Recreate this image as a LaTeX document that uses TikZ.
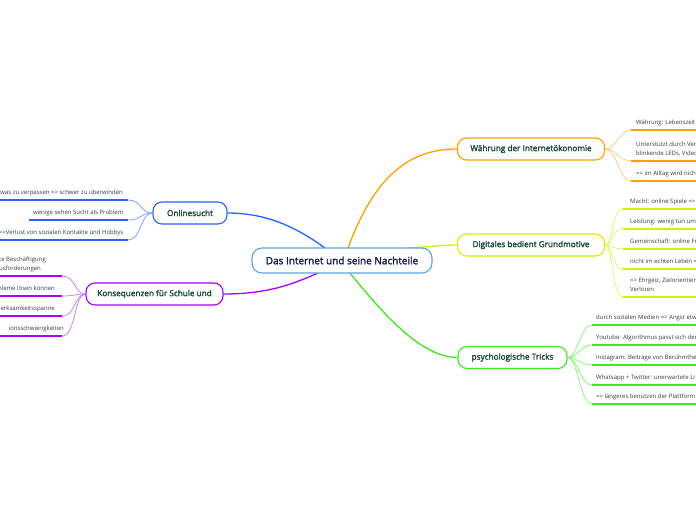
\documentclass[tikz,border=0pt]{standalone}
\usepackage{fontspec}
\setmainfont{Open Sans}
\newfontfamily\semib{Open Sans}[FakeBold=2.2]
\definecolor{cblue}{RGB}{41,98,255}
\definecolor{lblue}{RGB}{130,160,255}
\definecolor{cpurple}{RGB}{170,0,255}
\definecolor{lpurple}{RGB}{205,130,255}
\definecolor{corange}{RGB}{255,160,0}
\definecolor{lorange}{RGB}{255,205,130}
\definecolor{cyellow}{RGB}{212,240,0}
\definecolor{lyellow}{RGB}{230,245,110}
\definecolor{cgreen}{RGB}{60,232,30}
\definecolor{lgreen}{RGB}{140,245,120}
\definecolor{rootline}{RGB}{95,160,225}
\definecolor{roottext}{RGB}{20,30,75}
\definecolor{brtext}{RGB}{25,75,60}
\definecolor{leaftext}{RGB}{60,60,60}
\begin{document}
\begin{tikzpicture}[x=1pt,y=-1pt,
  rootbox/.style={draw=rootline, line width=1.1pt, rounded corners=10pt, fill=white,
    text=roottext, font=\semib\fontsize{10}{11}\selectfont, minimum width=180pt, minimum height=25pt, inner sep=0pt},
  branchbox/.style={draw, line width=1.1pt, rounded corners=9pt, fill=white,
    text=brtext, font=\semib\fontsize{8.2}{10}\selectfont, minimum height=22pt, inner sep=0pt},
  leaf/.style={text=leaftext, font=\fontsize{6}{9}\selectfont, inner sep=0pt, text depth=1.5pt},
  rootlink/.style={line width=1.3pt},
  leaflink/.style={line width=0.8pt},
  uline/.style={line width=1.6pt}
]
\useasboundingbox (0,0) rectangle (696,520);
\fill[white] (0,0) rectangle (696,520);

\coordinate (rb) at (325,248);
\coordinate (rp) at (318,273);
\coordinate (ro) at (348,248);
\coordinate (ry) at (407,248);
\coordinate (rg) at (350,273);

\node[branchbox, draw=cblue, minimum width=74pt] (onl) at (190,213) {Onlinesucht};
\node[branchbox, draw=cpurple, minimum width=137pt] (kon) at (154.5,294) {Konsequenzen für Schule und};
\node[branchbox, draw=corange, minimum width=147pt] (wae) at (531,149) {Währung der Internetökonomie};
\node[branchbox, draw=cyellow, minimum width=147pt] (dig) at (531,245) {Digitales bedient Grundmotive};
\node[branchbox, draw=cgreen, minimum width=109pt] (psy) at (512.5,357.5) {psychologische Tricks};

\draw[rootlink, cblue] (onl.east) .. controls (270,213) and (300,230) .. (rb);
\draw[rootlink, cpurple] (kon.east) .. controls (270,294) and (295,283) .. (rp);
\draw[rootlink, corange] (ro) .. controls (375,175) and (410,149) .. (wae.west);
\draw[rootlink, cyellow] (ry) .. controls (430,247) and (440,245) .. (dig.west);
\draw[rootlink, cgreen] (rg) .. controls (380,310) and (420,357.5) .. (psy.west);

\node[rootbox] (root) at (342,260.5) {Das Internet und seine Nachteile};

% ---------- Onlinesucht leaves ----------
\coordinate (b1e) at (128,200); \coordinate (b1s) at (-5,200);
\coordinate (b2e) at (128,220); \coordinate (b2s) at (29,220);
\coordinate (b3e) at (128,240); \coordinate (b3s) at (-5,240);
\draw[leaflink, lblue] (onl.west) .. controls (140,213) and (142,200) .. (b1e);
\draw[leaflink, lblue] (onl.west) .. controls (140,213) and (142,220) .. (b2e);
\draw[leaflink, lblue] (onl.west) .. controls (140,213) and (142,240) .. (b3e);
\draw[uline, cblue] (b1s) -- (b1e);
\draw[uline, cblue] (b2s) -- (b2e);
\draw[uline, cblue] (b3s) -- (b3e);
\node[leaf, anchor=south east] (b1) at (123,196) {twas zu verpassen => schwer zu überwinden};
\node[leaf, anchor=south east] (b2) at (123.5,216) {wenige sehen Sucht als Problem};
\node[leaf, anchor=south east] (b3) at (123.5,236) {=>Verlust von sozialen Kontakte und Hobbys};

% ---------- Konsequenzen leaves ----------
\coordinate (p1e) at (62,276); \coordinate (p1s) at (-5,276);
\coordinate (p2e) at (62,296); \coordinate (p2s) at (-5,296);
\coordinate (p3e) at (62,316); \coordinate (p3s) at (-5,316);
\coordinate (p4e) at (62,336); \coordinate (p4s) at (-5,336);
\draw[leaflink, lpurple] (kon.west) .. controls (74,294) and (76,276) .. (p1e);
\draw[leaflink, lpurple] (kon.west) .. controls (74,294) and (76,296) .. (p2e);
\draw[leaflink, lpurple] (kon.west) .. controls (74,294) and (76,316) .. (p3e);
\draw[leaflink, lpurple] (kon.west) .. controls (74,294) and (76,336) .. (p4e);
\draw[uline, cpurple] (p1s) -- (p1e);
\draw[uline, cpurple] (p2s) -- (p2e);
\draw[uline, cpurple] (p3s) -- (p3e);
\draw[uline, cpurple] (p4s) -- (p4e);
\node[leaf, anchor=south east, align=left] (p1) at (46,272) {te Beschäftigung\\usforderungen};
\node[leaf, anchor=south east] (p2) at (55,292) {bleme lösen können};
\node[leaf, anchor=south east] (p3) at (55,312) {erksamkeitsspanne};
\node[leaf, anchor=south east] (p4) at (64,332) {ionsschwierigkeiten};

% ---------- Währung leaves ----------
\coordinate (o1s) at (631,130); \coordinate (o1e) at (700,130);
\coordinate (o2s) at (631,161); \coordinate (o2e) at (700,161);
\coordinate (o3s) at (631,181); \coordinate (o3e) at (700,181);
\draw[leaflink, lorange] (wae.east) .. controls (617,149) and (619,130) .. (o1s);
\draw[leaflink, lorange] (wae.east) .. controls (617,149) and (619,161) .. (o2s);
\draw[leaflink, lorange] (wae.east) .. controls (617,149) and (619,181) .. (o3s);
\draw[uline, corange] (o1s) -- (o1e);
\draw[uline, corange] (o2s) -- (o2e);
\draw[uline, corange] (o3s) -- (o3e);
\node[leaf, anchor=south west] (o1) at (636,126) {Währung: Lebenszeit};
\node[leaf, anchor=south west, align=left] (o2) at (636,157) {Unterstützt durch Ver\\blinkende LEDs, Video};
\node[leaf, anchor=south west] (o3) at (636,177) {=> im Alltag wird nicht};

% ---------- Digitales leaves ----------
\coordinate (y1s) at (623,209); \coordinate (y1e) at (700,209);
\coordinate (y2s) at (623,229); \coordinate (y2e) at (700,229);
\coordinate (y3s) at (623,249); \coordinate (y3e) at (700,249);
\coordinate (y4s) at (623,269); \coordinate (y4e) at (700,269);
\coordinate (y5s) at (623,297); \coordinate (y5e) at (700,297);
\draw[leaflink, lyellow] (dig.east) .. controls (613,245) and (612,209) .. (y1s);
\draw[leaflink, lyellow] (dig.east) .. controls (613,245) and (612,229) .. (y2s);
\draw[leaflink, lyellow] (dig.east) .. controls (613,245) and (612,249) .. (y3s);
\draw[leaflink, lyellow] (dig.east) .. controls (613,245) and (612,269) .. (y4s);
\draw[leaflink, lyellow] (dig.east) .. controls (613,245) and (612,297) .. (y5s);
\draw[uline, cyellow] (y1s) -- (y1e);
\draw[uline, cyellow] (y2s) -- (y2e);
\draw[uline, cyellow] (y3s) -- (y3e);
\draw[uline, cyellow] (y4s) -- (y4e);
\draw[uline, cyellow] (y5s) -- (y5e);
\node[leaf, anchor=south west] (y1) at (630,205) {Macht: online Spiele =>};
\node[leaf, anchor=south west] (y2) at (630,225) {Leistung: wenig tun um};
\node[leaf, anchor=south west] (y3) at (630,245) {Gemeinschaft: online Fr};
\node[leaf, anchor=south west] (y4) at (630,265) {nicht im echten Leben =};
\node[leaf, anchor=south west, align=left] (y5) at (630,293) {=> Ehrgeiz, Zielorientier\\Verloren};

% ---------- psychologische Tricks leaves ----------
\coordinate (g1s) at (592,325); \coordinate (g1e) at (700,325);
\coordinate (g2s) at (592,345); \coordinate (g2e) at (700,345);
\coordinate (g3s) at (592,365); \coordinate (g3e) at (700,365);
\coordinate (g4s) at (592,385); \coordinate (g4e) at (700,385);
\coordinate (g5s) at (592,404); \coordinate (g5e) at (700,404);
\draw[leaflink, lgreen] (psy.east) .. controls (578,357.5) and (580,325) .. (g1s);
\draw[leaflink, lgreen] (psy.east) .. controls (578,357.5) and (580,345) .. (g2s);
\draw[leaflink, lgreen] (psy.east) .. controls (578,357.5) and (580,365) .. (g3s);
\draw[leaflink, lgreen] (psy.east) .. controls (578,357.5) and (580,385) .. (g4s);
\draw[leaflink, lgreen] (psy.east) .. controls (578,357.5) and (580,404) .. (g5s);
\draw[uline, cgreen] (g1s) -- (g1e);
\draw[uline, cgreen] (g2s) -- (g2e);
\draw[uline, cgreen] (g3s) -- (g3e);
\draw[uline, cgreen] (g4s) -- (g4e);
\draw[uline, cgreen] (g5s) -- (g5e);
\node[leaf, anchor=south west] (g1) at (596,321) {durch sozialen Medien => Angst etw};
\node[leaf, anchor=south west] (g2) at (596,341) {Youtube: Algorithmus passt sich der};
\node[leaf, anchor=south west] (g3) at (596,361) {Instagram: Beiträge von Berühmthe};
\node[leaf, anchor=south west] (g4) at (596,381) {Whatsapp + Twitter: unerwartete Li};
\node[leaf, anchor=south west] (g5) at (596,400) {=> längeres benutzen der Plattform};

\end{tikzpicture}
\end{document}
